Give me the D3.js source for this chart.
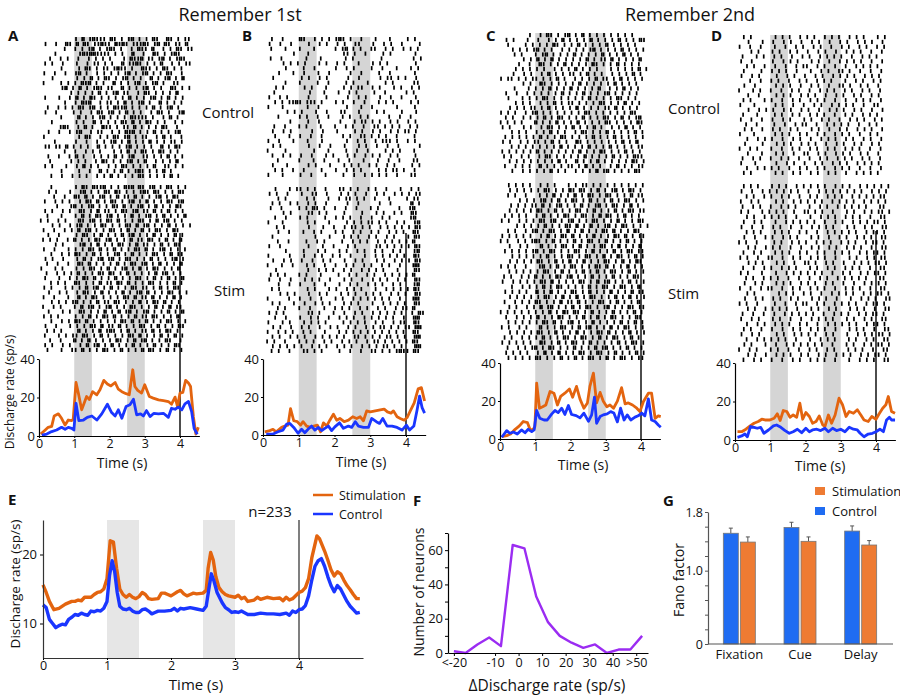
<!DOCTYPE html>
<html>
<head>
<meta charset="utf-8">
<script src="https://cdn.jsdelivr.net/npm/d3@7"></script>
<style>
body { margin: 0; background: #fff; }
svg text { font-family: "Open Sans", sans-serif; fill: #111; }
</style>
</head>
<body>
<svg id="fig" width="900" height="697"></svg>
<script>
// ---- raster rows: one char per 0.1 s bin, digit = number of spikes ----
const rasterAControl = [
"..........1.2.12111.21.1.12.1.1.21..21.1.11...",
".1..1..21.2.21.11211.2121.11121.12.21.11.2....",
".......1..1.1.12.1.121.1..1.211.2..1.1.21.11..",
"....1......121221111.1.1..2..1..21.1.121.....",
"...1..1.1..1..1.1.1.1...1.2112.11.12.1.121....",
".1.1..1...1..1.11.1.1..2.1121.1.1.2..1.1.11...",
"......1....1.21.1.11.1211.1..211.1.21.1.1.....",
".1..1..1..12.1..1.1.1.1.12.1.12.1.1.21..1.....",
"...1......1.1.2.1.21.1.12.1.1..2.1.12.1.2.....",
".1....1.1.1.212.1.1..2.1.1.12.1.12.1..11......",
"......12.1.2.1.121.11..2.1.1.12.1.1..21.1.1...",
".........1.1.1.1.2.1.12.11..1.21.1.1.1.2......",
".1...1..1.2.1.21.1.1.1.1.2.1.1.12.1.2.1.1.....",
".......1..1.212..1.11.1.2.1.12.1..2.1.1.1.....",
"..1..1.1.1.21.12.1.1.2112.1.1.1.2.1.12.1......",
".1..1....1.1..1.21.12.1.2.1.1..1.21.1..12.....",
"......1....2.1.1.12.1.1.1.21111.1..1.2.1......",
"...1......1.1..2.1.1.1.21.2.1.21.1.1..1.1.....",
"......121..1.2.1..211.1.11.2.1.1.1.21..1......",
"..1..1..1.12..1.11..1.1.212.1.1.2.1.1.12......",
".1.........1.21..1.1.21.12.1.11..1.2.1..1.....",
"....1.....1..1..1.1.12.1.2.1.1.2.1.1.11.1.....",
".11.11.2.1.1.1..2.1.1.1.12.1.1.1..2.1.21......",
".......1..1..1.1.1...1.1.2.1.21.1.21.1.1......",
"..1..1..1.2.1..1.1.1.2.1.12..11.1.1.2.1.1.....",
"...1.....1.1.1..1.21.1.1.12.1.2..1.1.1.2......",
".1.1...1..1.2.1.1..1.1.21.1.1.1.2..11.1.1.....",
"......1....1..1..2.1.1.2.1.121.1.1.2.1........",
"...1..1..1.1.1..1.1.2.1.1.1.21.1.1.1.2.1......"
];
const rasterAStim = [
"...1......1.21.2112.1.1.212.21.12.1.21.1.1....",
"..1.1...1..12.1.1.21.21.1.1.121.21.1.1.21.....",
"....1..1..21.2.1.12.1.2.11.2.1.1.12.1.21......",
".1..1.1.1..1.21.2.1.21.1.12.1.2.1.1.21.12.....",
".....1...12.1.12.1.1.21.2.1.12.1.2.1.1.21.....",
".1.1..1.1..21.1.2.11.1.21.12.11.2.1.2.1.1.....",
"..1...1...1.2.1.21.12.1.1.2.1.12.1.2.1.1.2....",
"1.1..1.1...21.12.1.21.2.1.1.21.1.2.12.1.1.....",
"...1.1..1.12.1.1.21.1.1.21.2.12.1.1.2.1.1.1...",
".1..1..1.1.2.12.1.1.21.1.2.1.2.1.21.1.21......",
"..1..1....1.21.1.2.1.1.2.12.1.1.2.1.1.2.1.....",
".1.1.1..1.2.1.1.21.12.1.1.2.11.21.1.2.1.2.....",
"....1.1....12.1.2.1.1.21.1.2.11.1.2.1.21......",
".1..1...1.1.1.21.2.1.2.1.1.21.2.1.12.1.1.1....",
"...1..1.1.21.1.2.1.1.12.1.2.1.1.21.1.2.11.....",
".1.1..1...1.2.1.12.12.1.21.1.1.2.1.1.12.1.....",
"..1..1..1..21.2.1.1.1.2.1.21.12.1.2.1.1.2.....",
"1...1.1...1.1.21.1.2.1.12.1.2.1.21.1.1.2......",
"..1..1.1.1.2.1.1.21.21.1.2.1.1.1.2.12.1.1.....",
".1...1..1.1.21.2.1.1.2.1.1.21.1.2.1.2.1.2.....",
"...1.1.1..21.1.1.2.11.21.2.1.1.21.1.1.2.1.....",
".1.1...1.1.1.2.12.1.2.1.1.21.11.1.2.1.21......",
"..1..1.1..1.21.1.2.1.1.2.1.12.2.1.1.21.1.1....",
".1..1...1..2.1.21.1.1.1.21.2.11.2.1.1.2.1.....",
"...1.1.1.12.1.1.2.11.21.1.1.2.1.21.2.1.1......",
".1..1.1...1.2.12.1.12.1.1.21.1.1.2.1.2.11.....",
"..1...1.1..21.1.1.2.1.2.12.1.12.1.1.2.1.2.....",
".1.1.1....1.1.2.1.21.2.1.1.2.11.21.1.1.2......",
"...1..1.1.21.2.1.1.1.1.21.2.1.2.1.1.21.1.1....",
".1..1...1.1.1.21.2.11.2.1.1.21.1.2.1.1.21.....",
"..1.1.1....2.1.1.2.121.1.2.1.11.2.1.21.1......",
".1...1.1.11.21.1.2.1.1.1.21.2.1.1.2.1.2.1.....",
"...1..1...2.1.2.1.1.1.21.1.2.12.1.1.21..1.....",
".1.1..1.1..1.2.12.1.2.1.1.2.1.1.2.1.1.21......",
"..1...1..11.2.1.1.21.1.2.1.1.2.21.1.2.1.1....."
];
const rasterBControl = [
"..1..1....21..1.1.1.121.1..1...1...1....1.1...",
".1..1..1....1..1.1..1.1..11...1..1.1..1....1..",
"..1...1...1...1.....1.12.1.1..11..1.1..1.1.1..",
"........1...1.........11.1..1....1.1......1...",
"..1..1......1...1......1.1.......1........1.1..",
".....1.1.1.1...1.1..1.1...1...1.1.1.......1...",
"......1....1..1.....1..1.1....1..1...1...1.1..",
"....1...1..1...1..1.....1..1....1..1......1...",
"..1.......1.1..1.1.....1..1.....1.11.1.1..1...",
"......1...1....1..1....1.1...1....1.1.....11..",
"...1.1.....1.1...1....1.1.11..1.1...1.1..1.1..",
"...1.........1...1...1..1.1....1..1.....1.1...",
".1..1.1.....1....1.....1..1.1...1..1..1...1...",
"...1.1.1121.111.1...1.1..1..1...1.1.1....1.1..",
".1...1......1..1.......1...1..1......1....1...",
"......1.1.1...1..1...11...1....1.1....1...1...",
"....1.....1.1..1..1...1.1..1.1.....1..1..1....",
".......1....1..1.....1...1.11.1.1..1.1..1.1...",
"...1..1...1.1...1...1..1.1..1..11.1.1.1..1.1..",
"..1..1.1.....1..1...1....1.1..1.1..1.1.11.1...",
"...1...1..1..1..1.....1.1..11.1.1.1..1....1...",
".1..1...1...1...1......1..1.1..1.111.1..1.1...",
"..1.1.......1..1..1...1...1.1..1..1..1.....1..",
".1....1.......1...1....1..1..1....1.1.1...1...",
"..1..1.1..1..1...1.1...1.1..1.1.1..1.1....1...",
"....1.....1...1..1...1..1...1...1..1..1...11..",
"..1...1.....1.1...1...1.1.1..1.1..1.1....1.1..",
"...1.1..1..1....1...1..1.1.1....1.1.11.1..1...",
".1...1....1..1...1....1..1..1.1.1.1..1...11..."
];
const rasterBStim = [
"...1...1.11.1.1..1...11.1.1..1.1..1...1..1.1..",
".1.1..1...1..11..1...1.1.1..1..1.1..1.1.1.11..",
"....1.1.....1.1...1..1.11.1.1..1...1....1.11..",
"..1.1..1.1..1.1..1.....1..1.....1..1.....2.1..",
"..1..1....1.1.21.1..1..1..1...1.1.....1..12...",
".....1.1....11.1.1....1....1...1.1..1.1..21...",
"...1..1...1.1....1..1.1.1..1..1..1.1.....12...",
".1...1......1.1...1....1.1.1.11.1.1..1.1..12..",
"...1.1......1...1..1..1.11.1.1..1.1.1.1.1.21..",
"....1..1...1..1.1...1.1..1.1..1.1..1.1.1..21..",
"..1...........1...1...1.1.1..1.1..1.1...1.21..",
"....1..1....1..1.1....1..1.1.1..1.1.1.1.1.2...",
".1..1.......1...1..1...1.1.....11.1.1.1.1.21..",
"......1....1...1.1...1.1..1.1..1.1..1.1...12..",
".1.....1...1..1.1..1.1..1...1..1.1.1.1.1..21..",
"..1..1.1..1..1..1.1...1..1.1...1.1..1.1.1.21..",
".1...1..1...1.1..1..1..1.1..1.1..1.1..1...22..",
"...1........1..1.1.1..1.1..1.1.1.1...1....21..",
"..1.1.1...1.1...1....1..1.1..1.1..1.1.1.1.2...",
".1..1..1...1.1.1..1...1.1..1..1.1.1..1.1..21..",
"....1..1..1...1..1...1..1.1..1.1.1..1.1...12..",
"..1.1.......1.1...1.1..1.1.1...1..1.1.1.1.21..",
"....1.1.1...1..1.1...1.1.1..1.1.1..1.1.1..21..",
".1.....1..1..1..1...1.1..1.1.1.1.1.1..1...22..",
"..1.1...1..1..1.1.1...1.1.1...1..1.1.1.1..21..",
"....1.1...1..1...1..1.1.1..1.1..1.1..1.11.2...",
".1.1.1......11.1...1..1..1.1..1.1.1.1.1..1.21.",
"...1..1...1..1.1..1..1.1.1..1.1.1.1.1..1..22..",
".1...1.1...1.1.1.1....1.1.1.1..1.1..1.11..21..",
"..1.1..1..1.1..1..1.1..1.1..1.1.11.1.1.11.22..",
".1..1.1.1..1.1...1...1.1.1.1.1.1.1.1.1.1..21..",
"..1.1..1.1.1..1.1.1.1.1..11.1.1.1.11.1.1..22..",
".1.1..1...1.1.1..1.1..1.1.1..1.11.1.1.1.1.21..",
"..1.1.1.1.1..1.1.1..1.1.1..1.1.1.11.1.1...22..",
"..1.1..1...11.1.1....1..1..1..11.1.1.1211.21.."
];
const rasterCControl = [
"........1..1.21.1.12.1.2.1.1.1.1.1.1.1........",
".1.1...1..1..1.1.2.1.1.1.2.1.1.1.2.1.1.21.....",
"..1....1.1.1.1.21.1.1.2.1.1.1.2.1.1.1.1.......",
"...1.1.1.12.1.1..1.1.1.1.12.1.1.1.2.1.1.1.....",
"....1.1...1.12.1.1.1.2.1.1.1.2.1.1.2.1.1......",
"......1.1.2.1.2.1.1.1.1.2.1.11.2.1.1.1.2......",
".....1..1..21.1.1.2.1.1.1.21.1.1.2.1.1.1......",
"....1.1.1.1.1..1.1.1.2.1.1.1...1.1.1.1.2.1....",
"...1..1.1..1.2.1.1.11.1.2.1.1..1.1.1.2.1......",
"1.11.1.1.11.1.1.2.1..1.1.1.2.11.1.2.1.1.1.....",
"......1.1..21.1.1.1.1.2.1.1.1.1.2.1.1.1.......",
"....1...1.1.1.2.1.1.2.1.1.1.2..1.1.2.1.1......",
".1..1..1.1.1.1.1.2.1.1.2.1.1.12.1.1.1.1.......",
"..1...1.1.1.21.1.1.1.1.1.2.1.1.1.21.1.1.......",
"....1.1.1..1.1.2.1.11.1.1.1.21.1.1.2.1.1......",
"..1.1.1.11.1.2.1.1.1.2.1.1.1.11.2.1.1.1.......",
"1.1.1..1.12.1.1.1.1.1.1.21.1.1.1.1.1.21.......",
".1.1..1.1.1.2.1.21.1.1.2.1.1.21.1.2.1.12......",
"1.1.1.1...2.1.1.2.1.1.2.1.1.1.21.1.1.1.21.....",
"1.1...1.1..1.21.1.1.2.1.1.2.1..1.1.2.1.1......",
"...1.1.1..1.1.2.1.1..1.21.1.1.2.1.1.1.2.1.....",
".1.1.1.1.1.2.1.1.21.1.1.1.2.1.1.2.1.1.1.1.....",
"1.1..1.1.11.1.2.1.1..21.1.1.1.1.1.2.1.2.......",
"...1.1.1.1.1.1.1.2.1.1.1.2.1.1.2.1.1.1.11.....",
"1.1.1.1.1.2.1.1.1.1.1.2.1.1.21.1.1.2.1.1......",
".1.1..1.1..1.21.1.1.1.1.2.1.1.1.2.1.1.211.....",
"..1.1.1.1.1.1.1.2.1..2.1.1.2.1.1.1.1.21.1.....",
".1..1.1.1..2.1.1.1.11.1.2.1.1..1.2.1.1.11.....",
"...1..1.1.1.1.2.1.1..1.1.1.2.12.1.1.1.21......"
];
const rasterCStim = [
"..1.1.1.1..1.1.1...1.1.11.1.1.1.1.1.1.1.1.....",
"..1.1.1.1.1.21.1.1.21.21.1.2.1.12.1.21.1......",
"..1.1..1...1.1.2.1.1.2.1.21.1.21.1.1.2.11.....",
".....1.1.1.12.1.2.1.21.1.2.1.1.2.1.21.1.1.....",
"...1.1.1.11.2.1.12.1.1.2.1.12.1.21.1.2.1......",
"..1.1.1.1.21.1.2.1.1.21.1.2.1.1.2.1.21.11.....",
".1.1.1.1..1.2.1.1.21.1.21.1.2.21.1.2.1.1......",
"1.1..1.1.1.21.12.1.12.1.1.21.1.1.2.1.1.21.....",
"....1.1.1.1.2.1.1.21.2.1.2.1.12.1.21.1.1.1....",
"..1.1..1.12.1.21.1.2.1.2.1.1.21.2.1.1.21......",
"1.1.1.1.1..1.2.1.21.2.1.1.2.1.1.21.2.1.11.....",
"1.1..1.1.121.1.2.1.1.2.1.21.1.2.1.1.2.1.1.....",
"..1..1.1...2.1.1.21.1.2.1.1.21.1.2.1.1.2......",
".1.1.1.1.12.1.21.1.1.21.1.2.1.1.2.1.21.11.....",
"...1.1.1.1.1.2.1.1.21.1.21.1.2.1.21.1.2.1.....",
"..1.1.1.1.21.1.2.1.2.1.2.1.1.21.1.2.1.21......",
"1.1.1..1...12.1.2.1.21.1.1.21.2.1.1.2.1.1.....",
"..1.1.1.1.1.21.1.2.1.1.2.1.2.1.21.1.2.1.1.....",
".1.1..1.1.2.1.1.21.12.1.1.2.1.1.2.1.1.21......",
"1..1.1.1.1.21.2.1.1.1.21.1.2.12.1.1.2.1.1.....",
"...1..1.1.1.2.1.21.1.1.1.2.1.21.1.21.1.2......",
".1.1.1.1..2.1.2.1.1.21.1.2.1.1.2.1.1.2.11.....",
"..1.1.1.1.1.21.1.2.1.2.1.21.1.1.2.1.2.1.1.....",
".1..1.1.1.21.1.1.2.11.2.1.1.21.1.2.1.1.2......",
"..1.1..1.1.2.12.1.1.2.1.21.1.12.1.1.21.11.....",
"1.1.1.1.1.1.1.2.1.21.21.1.2.1.1.2.1.1.2.1.....",
".1..1.1.1.2.1.1.21.1.1.2.1.2.1.21.1.1.21......",
"..1.1.1.1.1.21.2.1.12.1.1.2.1.1.1.2.1.2.1.....",
"1.1..1.1...2.1.1.21.1.2.12.1.1.2.1.21.1.1.....",
"..1.1.1.1.21.1.2.1.1.2.1.1.21.2.1.1.2.1.1.....",
".1.1..1.1.1.2.1.1.21.1.21.1.2.1.21.1.2.1......",
"1.1.1.1.1..21.1.2.1.21.1.2.1.1.1.2.1.21.1.....",
"..1..1.1.12.1.21.1.1.2.1.1.2.12.1.1.2.1.1.....",
".1.1.1.1..1.2.1.2.1.1.21.1.21.1.2.1.1.2.1.....",
"..1.1.1.1.21.1.1.2.1.2.1.21.1.2.1.21.1.11....."
];
const rasterDControl = [
"..1.1......1.1.1..1.1.1..1.1.1..1.1.1...1.1...",
"...1...1..1..1.1..1..1.1..1..1.1..1.1.1..1....",
".1..1..1...1..1..1.1..1.1..1..1.1..1.1..1.1...",
"....1.1...1.1..1.1..1..1.1..1..1.1.1..1..1....",
"..1...1.1..1.1..1..1.1..1.1.1.1..1..1.1.1.....",
".1..1.....1..1.1.1...1.1..1..1.1.1.1..1..1....",
"...1.1..1..1..1..1.11..1.1..1..1..1.1.1.1.....",
"..1....1..1.1.1..1...1..1.1..11.1..1..1..1....",
".1..1.1....1..1.1..1..1.1..1.1.1.1..1.1.1.....",
"....1..1..1.1..1..1.1..1.1.1...1..1.1..1.1....",
"..1..1.....1.1.1..1..1.1..1..11.1..1.1..1.....",
".1...1.1..1..1..1.1..1..1.1.1..1.1..1.1..1....",
"...1..1....1.1.1..1.1.1..1..1.1..1.1..1.1.....",
"..1.1...1.1..1..1.1..1.1.1..1..1..1.1.1..1....",
".1...1.....1.1..1..1..1.1..1.1.1.1..1..11.....",
"...1..1.1.1..1.1..1.1..1..1.1.1..1.1..1..1....",
"..1...1....1.1..1.1..1.1.1..1..1.1..1.1.1.....",
".1..1..1..1..1.1...1.1..1.1..1..1.1.1..1.1....",
"...1..1....1..1..1.11..1..1.1.1.1..1..1.1.....",
"..1.1..1..1.1..1.1...1.1..1..1.1..1.1.1..1....",
".1...1.....1.1.1..1.1..1.1..1.1.1..1..1.1.....",
"...1..1.1.1..1..1.1..1..1.1.1..1.1..1.1..1....",
"..1....1...1.1.1..1.1.1..1..1.1..1.1..1.1.....",
".1..1.1...1..1..1.1..1.1..1.1..1.1.1..1..1....",
"...1...1...1.1..1..11..1.1..1.1.1..1.1..1.....",
"..1..1.1..1..1.1..1..1..1.1..1.1.1..1.1..1....",
".1...1.....1..1.1..1..1.1..1.1.1..1.1.1.1.....",
"...1..1.1.1.1..1..1.1..1.1..1.1.1..1..1..1....",
"..1.1......1.1..1.1..1.1..1.1..1..1.1.1.1....."
];
const rasterDStim = [
"..1.1.1...1.1.1..1.1.1.1.1..1.1.1..1.1.1.1.1..",
".1..1..1.1.1.1.1.1..1..1.1.1.1.1.1.1..1.1.1...",
"...1.1..1.1..1.1..1..1.1..1.1.1..1.1.1.1.11...",
".1..1.1....1.1..1.1.1.1.1..1.1.1.1..1.1.1.1...",
"..1..1.1..1..1.1.1...1..1.1..1.1.1.1.1...11...",
".1.1...1.1.1.1..1..11.1.1..1...1.1..1.1.11.1..",
"...1.1..1.1.1.1..1...1..1.1.1..1.1.1..1..11...",
"..1..1.1...1..1.1.1.1.1..1..1.1..1.1.1.11.1...",
".1..1..1..1.1..1..1..1.1.1.1...1.1..1.1..11...",
"...1.1.1...1.1.1..1.1..1..1.1.1.1.1..1.11.1...",
"..1..1..1.1..1.1.1...1.1..1..1.1..1.1.1..11...",
".1.1..1....1.1..1.1.1..1.1.1..1.1.1..1.11.1...",
"...1.1..1.1.1..1..1..1.1..1.1..1.1.1..1..11...",
"..1..1.1...1.1.1..1.1..1.1..1.1.1..1.1.11.1...",
".1.1..1..11..1..1.1..1.1.1..1...1.1..1.1.11...",
"...1.1.1...1.1..1..11.1..1.1..1..1.1.1.11.1...",
"..1..1..1.1..1.1.1...1.1..1.1..1.1.1..1..11...",
".1.1...1...1..1.1.1.1.1.1..1..1.1..1.1.11.1...",
"...1.1..1.1.1..1..1..1..1.1..1.1.1.1.1...11...",
"..1..1.1...1.1.1..1.1.1..1.1..1..1..1.1.1.1...",
".1..1..1.11..1..1.1..1.1.1..1..1.1.1..1..11...",
"...1.1......1.1.1..1.1..1..1.1.1.1..1.1.11.1..",
"..1..1.1..1.1..1.1...1.1.1..1...1..1.1.1..11..",
".1.1..1....1..1..1.11..1.1..1.1.1.1..1.11.1...",
"...1.1..1.1.1.1..1...1.1..1.1...1.1.1..1..11..",
"..1..1..1..1..1.1.1.1.1..1..1.1.1..1.1.11.1...",
".1..1.1...1.1..1..1..1.1.1.1...1.1..1.1..11...",
"...1..1.1..1.1.1..1.1..1..1.1.1.1.1..1.11.1...",
"..1.1..1..1..1..1.1..1.1.1..1...1.1.1..1..11..",
".1..1.1....1.1..1.1.1.1..1.1...1..1.1.1.11.1..",
"...1..1.1.1.1.1..1...1..1.1.1...1.1..1.1..11..",
"..1.1...1..1..1.1.1.1.1.1..1...1.1..1.1.11.1..",
".1..1.1...1.1..1..1..1.1..1.1...1.1.1..1..11..",
"...1.1..1..1.1.1..1.1..1.1..1.1.1..1.1.11.1...",
"..1..1.1..1..1..1.1..1.1.1..1...1..1.1.1..11.."
];

// ---- trial-averaged rates, [time s, sp/s] ----
const rateAStim = [[0.05,1],[0.17,3],[0.26,4.5],[0.36,5],[0.43,10.4],[0.55,11.5],[0.64,9.2],[0.74,5.7],[0.83,8.3],[0.93,8],[0.97,8.7],[1.05,27.8],[1.12,22],[1.21,13.6],[1.28,17],[1.35,20.5],[1.43,19],[1.52,23],[1.64,21.4],[1.73,24],[1.84,28.9],[1.94,27],[2.04,26],[2.16,27.8],[2.25,24.3],[2.35,23],[2.47,22],[2.56,21.4],[2.66,34.4],[2.72,25.7],[2.8,23.7],[2.91,22.3],[3.0,26.6],[3.13,20.5],[3.24,19.7],[3.39,18.8],[3.53,18.4],[3.67,17.9],[3.76,16.5],[3.86,20.2],[3.93,15.3],[4.0,22.3],[4.08,22.6],[4.16,28.9],[4.24,27.5],[4.3,25.7],[4.38,10],[4.45,1],[4.52,4.5]];
const rateAControl = [[0.08,0.5],[0.22,1],[0.36,2.3],[0.5,3.1],[0.64,4.5],[0.74,3.5],[0.83,4.5],[0.93,4],[0.99,3.1],[1.05,17],[1.13,8],[1.26,8.3],[1.37,9.7],[1.5,10.4],[1.64,8.3],[1.78,11.5],[1.94,16.5],[2.06,12.2],[2.16,10.4],[2.25,13.6],[2.35,9.2],[2.47,15.3],[2.58,16.2],[2.68,19.1],[2.77,11],[2.88,11.5],[2.96,10.4],[3.05,13.2],[3.15,10.1],[3.26,11.8],[3.39,11.5],[3.53,11.8],[3.67,9.7],[3.76,14.4],[3.86,13.9],[3.95,15],[4.05,13.6],[4.14,16.7],[4.24,17.9],[4.33,12.7],[4.4,4],[4.49,0.9]];
const rateBStim = [[0.05,1.7],[0.19,2.3],[0.28,3],[0.37,1.7],[0.52,4],[0.61,4.7],[0.7,5.2],[0.77,13.9],[0.86,7.5],[0.96,7],[1.05,5.2],[1.12,7],[1.22,4.7],[1.33,4],[1.42,4.7],[1.52,5.2],[1.61,1.7],[1.69,6.4],[1.78,4.7],[1.87,7.8],[1.97,11],[2.06,7.8],[2.15,8.7],[2.27,7],[2.39,7.8],[2.51,9.6],[2.62,8.7],[2.72,9.6],[2.81,7.5],[2.9,12.7],[3.0,12.2],[3.14,12.7],[3.28,13.2],[3.39,13.6],[3.48,12.2],[3.58,11.5],[3.65,12.7],[3.75,9.6],[3.84,8.7],[3.95,7.8],[4.03,9.2],[4.12,12.7],[4.23,16.9],[4.34,24.3],[4.43,24.9],[4.52,17.9]];
const rateBControl = [[0.09,0.5],[0.28,0.5],[0.42,1.7],[0.56,2.6],[0.66,5.7],[0.75,6.1],[0.86,4],[0.98,0.9],[1.08,3],[1.17,1.2],[1.26,3],[1.36,4.7],[1.45,2.6],[1.55,4],[1.64,2.3],[1.73,3.5],[1.83,4.7],[1.92,2.3],[2.01,4.3],[2.14,6.4],[2.25,3.5],[2.39,4.7],[2.48,4],[2.58,7],[2.67,4.7],[2.81,4],[2.95,4],[3.04,8.7],[3.17,7],[3.26,6.1],[3.35,8.7],[3.47,4.7],[3.61,4.7],[3.75,4],[3.89,2.6],[4.01,5.2],[4.1,2.6],[4.22,4.7],[4.31,13.2],[4.38,20.5],[4.45,14.4],[4.52,11.5]];
const rateCStim = [[0.05,1.2],[0.19,1.8],[0.3,2.6],[0.43,5.1],[0.55,6.9],[0.66,9.2],[0.78,8.6],[0.85,5.1],[0.93,4.8],[0.99,6.5],[1.04,29.4],[1.12,16.2],[1.21,17],[1.3,17.9],[1.42,25],[1.53,24.1],[1.63,17.9],[1.72,22.4],[1.84,24.1],[1.97,26.3],[2.06,22],[2.17,27.7],[2.27,21],[2.38,16.2],[2.48,19],[2.55,27.7],[2.65,34.7],[2.74,19],[2.84,24.5],[2.93,19.9],[3.03,17],[3.12,17.9],[3.22,16.2],[3.33,19.9],[3.45,27],[3.55,18.5],[3.64,19],[3.76,17.9],[3.88,16.2],[3.97,14.4],[4.07,19.7],[4.21,24.1],[4.3,24.1],[4.4,10.9],[4.49,12.2],[4.56,11.8]];
const rateCControl = [[0.05,0.9],[0.19,4.4],[0.28,3],[0.38,3.7],[0.49,2.6],[0.61,4.8],[0.71,3.3],[0.8,5.1],[0.9,3.9],[0.97,4.8],[1.04,15],[1.13,10.9],[1.25,10],[1.34,10],[1.47,13.2],[1.56,15],[1.65,13.9],[1.75,16.2],[1.84,12.9],[1.94,17.6],[2.03,12.9],[2.16,12.3],[2.27,11.1],[2.38,13.6],[2.51,9.3],[2.6,12.7],[2.68,22],[2.74,8.3],[2.84,11.8],[2.93,12.7],[3.04,13.2],[3.14,14.4],[3.23,13.7],[3.33,9],[3.42,16.2],[3.52,10],[3.61,12.7],[3.71,10],[3.83,11.5],[3.92,12.2],[4.02,13.6],[4.11,12.2],[4.21,21.1],[4.3,10],[4.4,9.2],[4.49,7.4],[4.56,6.2]];
const rateDStim = [[0.07,4.3],[0.19,4.3],[0.31,5.6],[0.43,7.3],[0.54,8.7],[0.66,9.6],[0.76,10.8],[0.85,10.4],[0.99,10.4],[1.11,11.3],[1.2,13.6],[1.28,10.1],[1.37,15.3],[1.47,14.8],[1.56,11.8],[1.65,13],[1.75,11.8],[1.84,19.1],[1.92,10.8],[2.01,14.3],[2.11,12.2],[2.2,8.7],[2.3,9.6],[2.39,12.5],[2.49,7.8],[2.55,7],[2.65,13],[2.74,8.7],[2.84,13],[2.95,21.7],[3.05,18.3],[3.15,12.2],[3.24,14.8],[3.36,13.9],[3.47,15.7],[3.57,13],[3.66,10.4],[3.78,9.6],[3.88,12.2],[4.0,10.8],[4.09,13.6],[4.19,16.5],[4.28,18.3],[4.35,22.6],[4.44,14.8],[4.54,13.9]];
const rateDControl = [[0.07,1.4],[0.19,2.1],[0.28,3.1],[0.35,1.7],[0.44,7],[0.54,6.6],[0.63,6.1],[0.73,6.6],[0.82,3.5],[0.95,5.2],[1.09,7.3],[1.18,7.8],[1.3,6.6],[1.42,4.9],[1.54,3.5],[1.65,4.3],[1.77,5.6],[1.89,3.8],[2.01,6.1],[2.11,4.3],[2.2,5.2],[2.32,5.6],[2.43,4.9],[2.55,6.1],[2.65,4.3],[2.77,6.1],[2.88,4.9],[3.0,5.6],[3.12,4.3],[3.24,6.6],[3.36,5.6],[3.47,5.2],[3.55,3.5],[3.66,1.7],[3.78,3.1],[3.9,3.5],[4.0,4.3],[4.11,5.6],[4.21,4.3],[4.3,10.4],[4.38,11.8],[4.44,10.4],[4.54,10.4]];

// ---- population average (E) ----
const rateEStim = [[0,15.6],[0.05,14.5],[0.1,13.2],[0.17,12],[0.25,12.2],[0.35,12.8],[0.45,13.2],[0.5,13.2],[0.55,13.4],[0.6,13.3],[0.65,13.8],[0.75,13.8],[0.8,14.2],[0.85,14.5],[0.9,14.6],[0.95,15],[1.0,16.5],[1.05,22],[1.1,21.8],[1.15,18],[1.2,15],[1.25,14.2],[1.3,13.8],[1.35,14.2],[1.4,13.8],[1.45,13.6],[1.5,13.9],[1.55,14.5],[1.6,14.2],[1.65,13.6],[1.7,13.5],[1.8,13.6],[1.85,14.4],[1.9,14.4],[1.95,14.2],[2.0,14.0],[2.05,14.3],[2.1,14.6],[2.15,14.8],[2.2,14.3],[2.25,14.0],[2.3,14.2],[2.35,14.4],[2.4,14.3],[2.5,14.4],[2.55,14.8],[2.58,18],[2.62,20.3],[2.66,19.2],[2.7,16.8],[2.75,15.2],[2.8,14.6],[2.85,14.2],[2.9,14.0],[3.0,13.8],[3.05,14.1],[3.1,13.6],[3.15,13.8],[3.2,13.2],[3.3,13.4],[3.35,13.8],[3.4,13.5],[3.5,13.8],[3.6,13.6],[3.7,13.7],[3.75,13.3],[3.8,13.8],[3.85,13.4],[3.9,13.6],[4.0,14.5],[4.05,14.7],[4.1,15.2],[4.15,16.5],[4.2,19.5],[4.28,22.7],[4.32,22.3],[4.4,20.5],[4.45,19.2],[4.5,17.8],[4.55,16.9],[4.6,17.5],[4.65,17.2],[4.7,16.3],[4.75,15.5],[4.8,14.9],[4.85,14.2],[4.9,13.6],[4.95,13.6]];
const rateEControl = [[0,12.7],[0.05,12.3],[0.1,10.6],[0.15,10],[0.2,9.4],[0.25,9.7],[0.3,9.9],[0.35,9.8],[0.4,10.6],[0.45,10.9],[0.5,11.3],[0.55,11.2],[0.6,11.5],[0.65,11.3],[0.7,11.2],[0.75,11.8],[0.8,11.7],[0.85,11.9],[0.9,11.8],[0.95,12.2],[1.0,13.2],[1.04,17],[1.08,19.1],[1.12,17.5],[1.16,14.5],[1.2,12.5],[1.25,12.1],[1.3,12.0],[1.35,12.2],[1.4,11.8],[1.45,11.6],[1.5,11.6],[1.55,12.0],[1.6,12.1],[1.65,11.8],[1.7,11.4],[1.75,11.6],[1.8,11.8],[1.9,11.8],[2.0,11.9],[2.05,12.2],[2.1,11.8],[2.15,12.2],[2.2,12.1],[2.3,12.3],[2.4,12.1],[2.5,11.9],[2.55,12.5],[2.6,15.5],[2.63,17.2],[2.67,16.2],[2.72,14.5],[2.8,13],[2.85,12.3],[2.9,12.0],[2.95,11.6],[3.0,11.7],[3.05,11.6],[3.1,11.8],[3.2,11.3],[3.3,11.3],[3.4,11.5],[3.5,11.4],[3.6,11.4],[3.7,11.3],[3.8,11.5],[3.85,11.2],[3.9,11.8],[3.95,11.6],[4.0,12.0],[4.05,12.1],[4.1,12.6],[4.15,14],[4.2,16.3],[4.25,18.3],[4.3,19.1],[4.35,19.4],[4.4,18.3],[4.45,16.8],[4.5,15.5],[4.55,14.6],[4.6,15.5],[4.65,15.0],[4.7,14.1],[4.75,13.2],[4.8,12.5],[4.85,12.0],[4.9,11.5],[4.95,11.6]];

// ---- distribution of rate differences (F) ----
const fBins = [-27.5,-22.5,-17.5,-12.5,-7.5,-2.5,2.5,7.5,12.5,17.5,22.5,27.5,32.5,37.5,42.5,47.5,52.5];
const fCounts = [1,0,5,9,4,63,61,33,18,10,6,3,5,0,2,2,10];
const fTickValues = [-27.5,-10,0,10,20,30,40,50];
const fTickLabels = ["<-20","-10","0","10","20","30","40",">50"];

// ---- Fano factor (G) ----
const gCats = ["Fixation","Cue","Delay"];
const gControl = [1.51,1.59,1.54];
const gControlErr = [0.07,0.07,0.07];
const gStim = [1.39,1.40,1.35];
const gStimErr = [0.07,0.06,0.06];
const gTicks = [0,0.2,0.4,0.6,0.8,1.0,1.2,1.4,1.6,1.8];

const shaded = [[1, 1.5], [2.5, 3]];
const ORANGE = "#e3640f", BLUE = "#1a36ff";
const binW = 0.1;
// small per-row shift (s) so tick columns don't line up across trials
const rowShift = [0, 0.035, -0.02, 0.015, -0.035, 0.025, -0.01];

const svg = d3.select("#fig");

function drawRaster(rows, x, top, bottom) {
    const yb = d3.scaleBand().domain(d3.range(rows.length)).range([top, bottom]).paddingInner(0.14);
    const spikes = [];
    rows.forEach((r, j) => {
        for (let i = 0; i < r.length; i++) {
            const n = r[i] === "." ? 0 : +r[i];
            for (let k = 0; k < n; k++) {
                const t = binW * (i + (k + 0.5) / n) + rowShift[j % rowShift.length];
                spikes.push({ t: Math.max(0.02, t), row: j });
            }
        }
    });
    svg.append("g").selectAll("rect")
        .data(spikes)
        .enter()
        .append("rect")
        .attr("x", d => x(d.t) - 0.85)
        .attr("y", d => yb(d.row))
        .attr("width", 1.7)
        .attr("height", yb.bandwidth())
        .attr("fill", "#000");
}

function styleAxis(g, size) {
    g.selectAll("path").attr("stroke", "#000").attr("stroke-width", 1.2);
    g.selectAll("line").attr("stroke", "#000");
    g.selectAll("text").style("font-size", size + "px").attr("fill", "#111");
}

const unitPanels = [
    { letter: "A", lx: 8,   x0: 39,  pxs: 35.25, top: 37, ctlBottom: 178, stimTop: 185, stimBottom: 352, yBase: 436, yTop: 359, lineTop: 233,
      control: rasterAControl, stim: rasterAStim, rStim: rateAStim, rCtl: rateAControl, timeX: 122, timeY: 468 },
    { letter: "B", lx: 242, x0: 263, pxs: 35.75, top: 37, ctlBottom: 177, stimTop: 187, stimBottom: 353, yBase: 435, yTop: 359, lineTop: 233,
      control: rasterBControl, stim: rasterBStim, rStim: rateBStim, rCtl: rateBControl, timeX: 361, timeY: 467 },
    { letter: "C", lx: 486, x0: 500, pxs: 35.25, top: 33, ctlBottom: 173, stimTop: 183, stimBottom: 360, yBase: 439, yTop: 363, lineTop: 233,
      control: rasterCControl, stim: rasterCStim, rStim: rateCStim, rCtl: rateCControl, timeX: 583, timeY: 470 },
    { letter: "D", lx: 711, x0: 735, pxs: 35.25, top: 35, ctlBottom: 175, stimTop: 184, stimBottom: 362, yBase: 440, yTop: 363, lineTop: 231,
      control: rasterDControl, stim: rasterDStim, rStim: rateDStim, rCtl: rateDControl, timeX: 820, timeY: 471 }
];

unitPanels.forEach(p => {
    const x = d3.scaleLinear().domain([0, 4.55]).range([p.x0, p.x0 + 4.55 * p.pxs]);
    const y = d3.scaleLinear().domain([0, 40]).range([p.yBase, p.yTop]);

    svg.append("g").selectAll("rect")
        .data(shaded)
        .enter()
        .append("rect")
        .attr("x", d => x(d[0]))
        .attr("width", d => x(d[1]) - x(d[0]))
        .attr("y", p.top)
        .attr("height", p.yBase - p.top)
        .attr("fill", "#d5d5d5");

    drawRaster(p.control, x, p.top, p.ctlBottom);
    drawRaster(p.stim, x, p.stimTop, p.stimBottom);

    svg.append("line")
        .attr("x1", x(4)).attr("x2", x(4))
        .attr("y1", p.lineTop).attr("y2", p.yBase)
        .attr("stroke", "#000").attr("stroke-width", 1.4);

    const line = d3.line().x(d => x(d[0])).y(d => y(d[1]));
    svg.append("path").datum(p.rStim)
        .attr("fill", "none").attr("stroke", ORANGE).attr("stroke-width", 2.8)
        .attr("stroke-linejoin", "round").attr("d", line);
    svg.append("path").datum(p.rCtl)
        .attr("fill", "none").attr("stroke", BLUE).attr("stroke-width", 2.8)
        .attr("stroke-linejoin", "round").attr("d", line);

    const gx = svg.append("g")
        .attr("transform", `translate(0,${p.yBase})`)
        .call(d3.axisBottom(x).tickValues([0, 1, 2, 3, 4]).tickFormat(d3.format("d")).tickSize(2).tickSizeOuter(0).tickPadding(1));
    styleAxis(gx, 12.5);
    const gy = svg.append("g")
        .attr("transform", `translate(${p.x0},0)`)
        .call(d3.axisLeft(y).tickValues([0, 20, 40]).tickSize(2).tickSizeOuter(0).tickPadding(2));
    styleAxis(gy, 13);

    svg.append("text")
        .attr("x", p.timeX).attr("y", p.timeY)
        .attr("text-anchor", "middle")
        .style("font-size", "14px")
        .text("Time (s)");

    svg.append("text")
        .attr("x", p.lx).attr("y", 41)
        .style("font-size", "15px").style("font-weight", "bold")
        .text(p.letter);
});

svg.append("text")
    .attr("transform", "translate(14,392) rotate(-90)")
    .attr("text-anchor", "middle")
    .style("font-size", "12px")
    .text("Discharge rate (sp/s)");

[["Remember 1st", 240], ["Remember 2nd", 690]].forEach(t => {
    svg.append("text").attr("x", t[1]).attr("y", 21)
        .attr("text-anchor", "middle").style("font-size", "18px").text(t[0]);
});
[["Control", 202, 118], ["Stim", 214, 296], ["Control", 668, 114], ["Stim", 668, 299]].forEach(t => {
    svg.append("text").attr("x", t[1]).attr("y", t[2])
        .style("font-size", "15px").text(t[0]);
});

// ---------- E ----------
{
    const x = d3.scaleLinear().domain([0, 5]).range([43, 363]);
    const y = d3.scaleLinear().domain([5, 25]).range([658, 520]);

    svg.append("g").selectAll("rect")
        .data(shaded)
        .enter()
        .append("rect")
        .attr("x", d => x(d[0]))
        .attr("width", d => x(d[1]) - x(d[0]))
        .attr("y", 520)
        .attr("height", 138)
        .attr("fill", "#e6e6e6");

    svg.append("line")
        .attr("x1", x(4)).attr("x2", x(4)).attr("y1", 520).attr("y2", 658)
        .attr("stroke", "#555").attr("stroke-width", 1.5);

    const line = d3.line().x(d => x(d[0])).y(d => y(d[1]));
    svg.append("path").datum(rateEStim)
        .attr("fill", "none").attr("stroke", ORANGE).attr("stroke-width", 3.4)
        .attr("stroke-linejoin", "round").attr("d", line);
    svg.append("path").datum(rateEControl)
        .attr("fill", "none").attr("stroke", BLUE).attr("stroke-width", 3.4)
        .attr("stroke-linejoin", "round").attr("d", line);

    const gx = svg.append("g").attr("transform", "translate(0,658)")
        .call(d3.axisBottom(x).tickValues([0, 1, 2, 3, 4]).tickFormat(d3.format("d")).tickSize(2).tickSizeOuter(0).tickPadding(1));
    styleAxis(gx, 12.5);
    gx.selectAll("path").attr("stroke", "#333");
    const gy = svg.append("g").attr("transform", "translate(43,0)")
        .call(d3.axisLeft(y).tickValues([10, 20]).tickSize(3).tickSizeOuter(0).tickPadding(3));
    styleAxis(gy, 13);
    gy.selectAll("path").attr("stroke", "#333");

    svg.append("text").attr("x", 196).attr("y", 690).attr("text-anchor", "middle")
        .style("font-size", "15px").text("Time (s)");
    svg.append("text").attr("transform", "translate(20,584) rotate(-90)")
        .attr("text-anchor", "middle").style("font-size", "13.5px").text("Discharge rate (sp/s)");
    svg.append("text").attr("x", 270).attr("y", 517).attr("text-anchor", "middle")
        .style("font-size", "15px").text("n=233");
    svg.append("text").attr("x", 8).attr("y", 505)
        .style("font-size", "15px").style("font-weight", "bold").text("E");

    [["Stimulation", ORANGE, 495], ["Control", BLUE, 514]].forEach(l => {
        svg.append("line").attr("x1", 313).attr("x2", 333).attr("y1", l[2]).attr("y2", l[2])
            .attr("stroke", l[1]).attr("stroke-width", 2.5);
        svg.append("text").attr("x", 339).attr("y", l[2] + 4.5)
            .style("font-size", "12.5px").text(l[0]);
    });
}

// ---------- F ----------
{
    const x = d3.scaleLinear().domain([-30, 55]).range([448, 648]);
    const y = d3.scaleLinear().domain([0, 70]).range([653, 533]);

    svg.append("path").datum(fBins.map((b, i) => [b, fCounts[i]]))
        .attr("fill", "none").attr("stroke", "#9b2cf2").attr("stroke-width", 2.4)
        .attr("stroke-linejoin", "round")
        .attr("d", d3.line().x(d => x(d[0])).y(d => y(d[1])));

    const gx = svg.append("g").attr("transform", "translate(0,653)")
        .call(d3.axisBottom(x).tickValues(fTickValues).tickFormat((d, i) => fTickLabels[i])
            .tickSize(3).tickSizeOuter(0).tickPadding(2));
    styleAxis(gx, 12.5);
    const gy = svg.append("g").attr("transform", "translate(448,0)")
        .call(d3.axisLeft(y).tickValues([0, 10, 20, 30, 40, 50, 60, 70])
            .tickFormat(d => d % 20 === 0 ? d : "").tickSize(3).tickSizeOuter(0).tickPadding(2));
    styleAxis(gy, 13);

    svg.append("text").attr("transform", "translate(424,592) rotate(-90)")
        .attr("text-anchor", "middle").style("font-size", "14px").text("Number of neurons");
    svg.append("text").attr("x", 547).attr("y", 691).attr("text-anchor", "middle")
        .style("font-size", "15.5px").text("ΔDischarge rate (sp/s)");
    svg.append("text").attr("x", 413).attr("y", 506)
        .style("font-size", "15px").style("font-weight", "bold").text("F");
}

// ---------- G ----------
{
    const x = d3.scaleBand().domain(gCats).range([709, 891]);
    const xs = d3.scaleBand().domain(["Control", "Stimulation"]).range([-16, 16]).paddingInner(0.12);
    const y = d3.scaleLinear().domain([0, 1.8]).range([644, 512]);

    const rows = [];
    gCats.forEach((c, i) => {
        rows.push({ cat: c, key: "Control", v: gControl[i], e: gControlErr[i], color: "#1f6cf2" });
        rows.push({ cat: c, key: "Stimulation", v: gStim[i], e: gStimErr[i], color: "#ee7b33" });
    });
    const cx = d => x(d.cat) + x.bandwidth() / 2 + xs(d.key);

    const bars = svg.append("g").selectAll("g").data(rows).enter().append("g");
    bars.append("line")
        .attr("x1", d => cx(d) + xs.bandwidth() / 2).attr("x2", d => cx(d) + xs.bandwidth() / 2)
        .attr("y1", d => y(d.v)).attr("y2", d => y(d.v + d.e))
        .attr("stroke", "#555").attr("stroke-width", 1);
    bars.append("line")
        .attr("x1", d => cx(d) + xs.bandwidth() / 2 - 2).attr("x2", d => cx(d) + xs.bandwidth() / 2 + 2)
        .attr("y1", d => y(d.v + d.e)).attr("y2", d => y(d.v + d.e))
        .attr("stroke", "#555").attr("stroke-width", 1);
    bars.append("rect")
        .attr("x", d => cx(d)).attr("width", xs.bandwidth())
        .attr("y", d => y(d.v)).attr("height", d => 644 - y(d.v))
        .attr("fill", d => d.color).attr("stroke", "#777").attr("stroke-width", 0.8);

    const gy = svg.append("g").attr("transform", "translate(708,0)")
        .call(d3.axisLeft(y).tickValues(gTicks)
            .tickFormat(d => d === 0 ? "0" : (d === 1.0 || d === 1.8) ? d.toFixed(1) : "")
            .tickSize(3).tickSizeOuter(0).tickPadding(2));
    styleAxis(gy, 12.5);
    gy.selectAll("path, line").attr("stroke", "#555");
    svg.append("line").attr("x1", 708).attr("x2", 893).attr("y1", 644).attr("y2", 644)
        .attr("stroke", "#555").attr("stroke-width", 1.2);

    gCats.forEach(c => {
        svg.append("text").attr("x", x(c) + x.bandwidth() / 2).attr("y", 659)
            .attr("text-anchor", "middle").style("font-size", "13px").text(c);
    });

    svg.append("text").attr("transform", "translate(684,580) rotate(-90)")
        .attr("text-anchor", "middle").style("font-size", "14px").text("Fano factor");
    svg.append("text").attr("x", 663).attr("y", 506)
        .style("font-size", "15px").style("font-weight", "bold").text("G");

    [["Stimulation", "#ee7b33", 487], ["Control", "#1f6cf2", 507]].forEach(l => {
        svg.append("rect").attr("x", 815).attr("y", l[2]).attr("width", 10).attr("height", 8).attr("fill", l[1]);
        svg.append("text").attr("x", 832).attr("y", l[2] + 8.5)
            .style("font-size", "13px").text(l[0]);
    });
}
</script>
</body>
</html>
